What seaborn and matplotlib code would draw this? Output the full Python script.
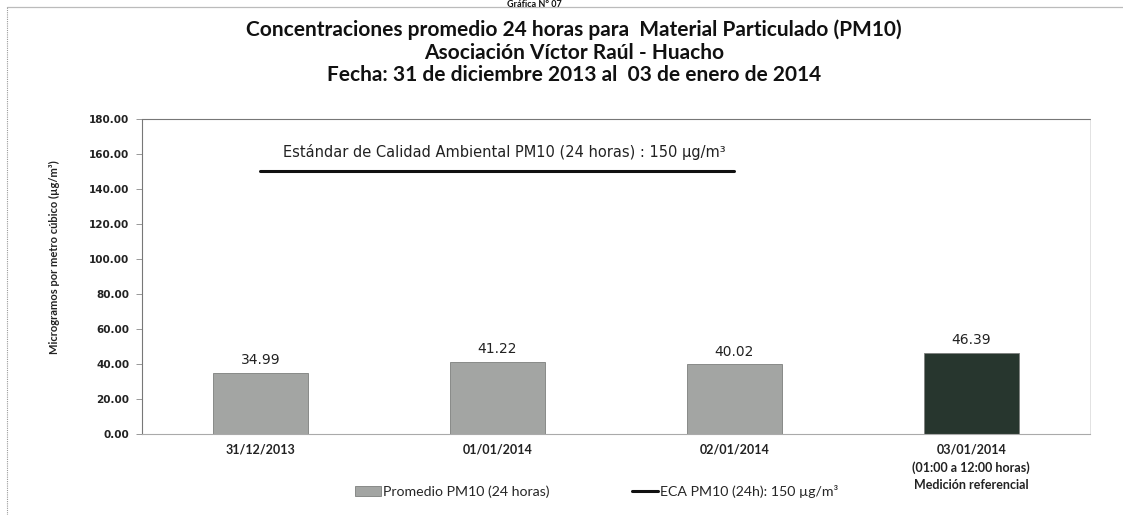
import matplotlib
matplotlib.use("Agg")
import matplotlib.pyplot as plt
import seaborn as sns
import pandas as pd
from matplotlib.patches import Patch
from matplotlib.lines import Line2D

# ---- data ----
categories = ["31/12/2013", "01/01/2014", "02/01/2014",
              "03/01/2014\n(01:00 a 12:00 horas)\nMedición referencial"]
pm10_values = [34.99, 41.22, 40.02, 46.39]
bar_colors = ["#a3a5a3", "#a3a5a3", "#a3a5a3", "#27362e"]
eca_categories = categories[:3]
eca_values = [150, 150, 150]
yticks = [0, 20, 40, 60, 80, 100, 120, 140, 160, 180]

title_lines = ["Concentraciones promedio 24 horas para  Material Particulado (PM10)",
               "Asociación Víctor Raúl - Huacho",
               "Fecha: 31 de diciembre 2013 al  03 de enero de 2014"]
eca_text = "Estándar de Calidad Ambiental PM10 (24 horas) : 150 µg/m³"
ylabel = "Microgramos por metro cúbico (µg/m³)"
legend_bar = "Promedio PM10 (24 horas)"
legend_line = "ECA PM10 (24h): 150 µg/m³"

sns.set_theme(style="white")
plt.rcParams['font.family'] = ['DejaVu Sans']

fig = plt.figure(figsize=(11.23, 5.15), dpi=100)
ax = fig.add_axes([0.1264, 0.157, 0.844, 0.612])

df = pd.DataFrame({"cat": categories, "val": pm10_values})
sns.barplot(data=df, x="cat", y="val", hue="cat", palette=bar_colors,
            width=0.40, legend=False, ax=ax, saturation=1,
            edgecolor="#7d7f7d", linewidth=0.6)

# ECA line
sns.lineplot(x=eca_categories, y=eca_values, color="#111111", linewidth=2.2, ax=ax)
ax.text(1.03, 161, eca_text, ha="center", va="center", fontsize=10.5,
        color="#222222", family="DejaVu Sans")

# value labels
for i, v in enumerate(pm10_values):
    ax.annotate(f"{v:.2f}", (i, v), xytext=(0, 4), textcoords="offset points",
                ha="center", va="bottom", fontsize=10, color="#222222")

ax.set_ylim(yticks[0], yticks[-1])
ax.set_xlim(-0.5, len(categories) - 0.5)
ax.set_yticks(yticks)
ax.set_yticklabels([f"{t:.2f}" for t in yticks], fontsize=7.5, fontweight="bold",
                   color="#222222")
ax.set_xticks(range(len(categories)))
ax.set_xticklabels(categories, fontsize=9, fontweight="bold", family="Lato",
                   color="#222222", linespacing=1.5)
ax.tick_params(axis="y", which="both", left=True, length=4, width=0.6,
               color="#888888", pad=5)
ax.tick_params(axis="x", length=0, pad=7)
ax.set_xlabel("")
ax.set_ylabel(ylabel, fontsize=8, fontweight="bold", family="Lato", color="#222222")
ax.yaxis.set_label_coords(-0.0865, 0.562)

for side in ["top", "left"]:
    ax.spines[side].set_linestyle((0, (1, 1)))
    ax.spines[side].set_color("#777777")
    ax.spines[side].set_linewidth(0.8)
ax.spines["right"].set_color("#dddddd")
ax.spines["right"].set_linewidth(0.6)
ax.spines["bottom"].set_color("#aaaaaa")
ax.spines["bottom"].set_linewidth(0.8)
ax.grid(False)

# titles
fig.text(0.476, 1.0, "Gráfica N° 07", ha="center", va="top", fontsize=6.5,
         fontweight="bold", family="Lato", color="#111111")
for k, line in enumerate(title_lines):
    fig.text(0.511, 0.942 - k * 0.044, line, ha="center", va="center",
             fontsize=15, fontweight="bold", family="Lato", color="#111111")

# outer frame (top and left edges)
fig.add_artist(Line2D([0.0062, 1.0], [0.986, 0.986], transform=fig.transFigure,
                      color="#bbbbbb", linewidth=0.9))
fig.add_artist(Line2D([0.0062, 0.0062], [0.0, 0.986], transform=fig.transFigure,
                      color="#999999", linewidth=0.8, linestyle=(0, (1, 1))))

handles = [Patch(facecolor=bar_colors[0], edgecolor="#7d7f7d", linewidth=0.6),
           Line2D([0], [0], color="#111111", linewidth=2.2)]
fig.legend(handles, [legend_bar, legend_line], loc="center", ncol=2,
           bbox_to_anchor=(0.531, 0.045), frameon=False,
           prop={"family": "Lato", "size": 10.2}, handlelength=1.9,
           handletextpad=0.1, columnspacing=5.8)

fig.savefig("out.png", dpi=100)
